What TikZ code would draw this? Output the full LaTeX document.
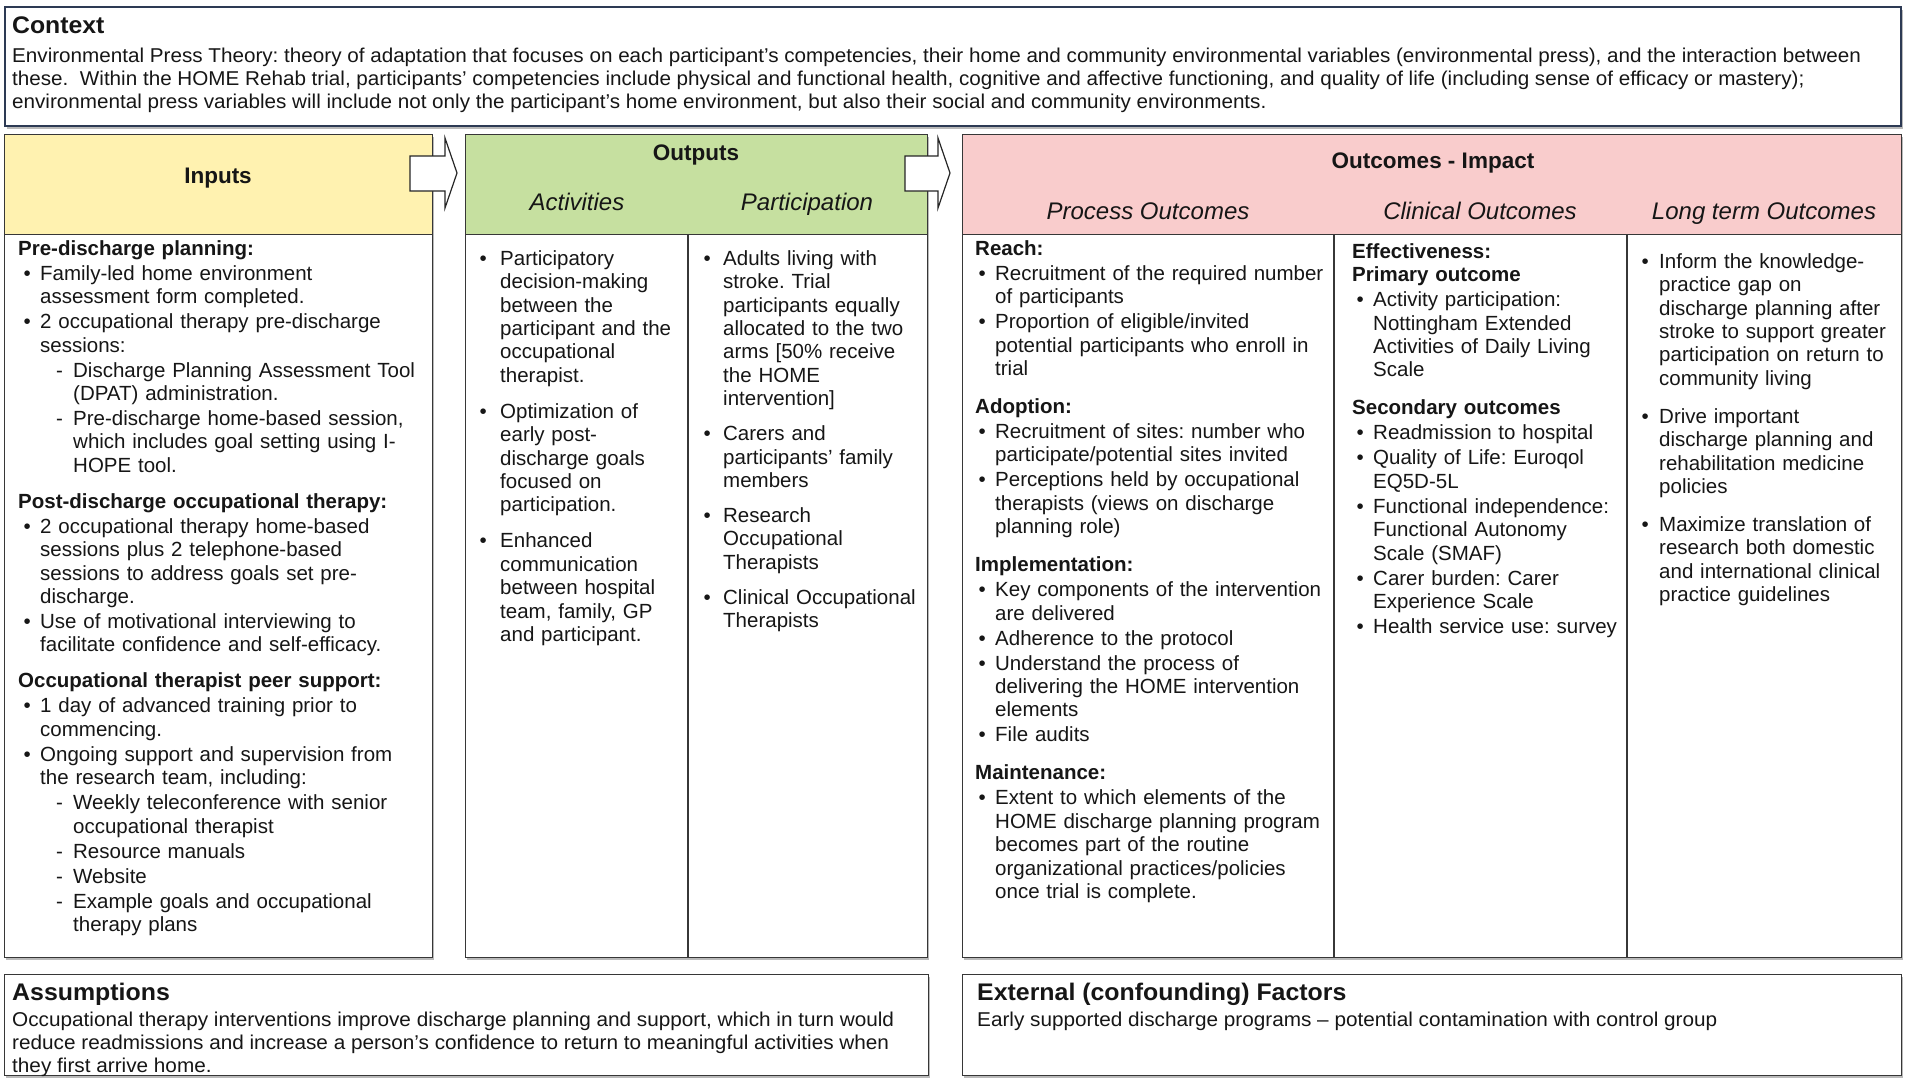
\documentclass[tikz,border=0pt]{standalone}
\usepackage{fontspec}
\setmainfont{Liberation Sans}
\usepackage{graphicx}
\usetikzlibrary{shadows}
\definecolor{hdyellow}{RGB}{255,242,176}
\definecolor{hdgreen}{RGB}{198,224,160}
\definecolor{hdpink}{RGB}{249,204,204}
\definecolor{ctxblue}{RGB}{45,58,84}
\definecolor{txt}{RGB}{22,22,22}
\definecolor{edge}{RGB}{55,55,55}

\newlength\bpos \newlength\tind \newlength\dpos \newlength\dind \newlength\mylen
\newsavebox\measbox
\newcommand\nl{\newline}
\newcommand\bi{\par\hangindent=\tind\hangafter=1\noindent\hbox to\tind{\hskip\bpos\textbullet\hfil}}
\newcommand\di{\par\hangindent=\dind\hangafter=1\noindent\hbox to\dind{\hskip\dpos-\hfil}}
\newcommand\hd[1]{\par\noindent\textbf{#1}}
\newcommand\gap[1]{\par\vspace{#1}}
\newcommand\bodyfont{\fontsize{20.5}{23.4}\selectfont\setlength\parskip{1.6pt}}
\newcommand\ctxfont{\fontsize{20}{23}\selectfont}
\newcommand\ctxhdfont{\fontsize{24}{27}\selectfont\bfseries}
\newcommand\hdfont{\fontsize{22.5}{26}\selectfont}
\newcommand\subfont{\fontsize{24}{27}\selectfont}

\AtBeginDocument{%
\frenchspacing
\sbox\measbox{\ctxfont Environmental Press Theory: theory of adaptation that focuses on each participant’s competencies, their home and community environmental variables (environmental press), and the interaction between}%
\global\mylen=\wd\measbox
\pgfmathsetmacro\ctxr{1849/\mylen}\global\let\ctxr\ctxr
\sbox\measbox{\ctxfont Occupational therapy interventions improve discharge planning and support, which in turn would}%
\global\mylen=\wd\measbox
\pgfmathsetmacro\asr{882/\mylen}\global\let\asr\asr
}

\tikzset{
  box/.style={draw=edge, line width=1.3pt, fill=white, anchor=north west, inner sep=0pt,
    drop shadow={shadow xshift=1.5pt, shadow yshift=-2.5pt, fill=black!45, opacity=0.6}},
  hdr/.style={draw=edge, line width=1.3pt, anchor=north west, inner sep=0pt, minimum height=100pt},
  divider/.style={draw=edge, line width=1.3pt},
  blockarrow/.style={draw=black!85, line width=1.2pt, fill=white, line join=miter},
  hdtitle/.style={anchor=base, inner sep=0pt, font=\hdfont\bfseries, text=txt},
  hdsub/.style={anchor=base, inner sep=0pt, font=\subfont\itshape, text=txt},
  body/.style={anchor=north west, inner sep=0pt, text width=#1, align=left, font=\bodyfont, text=txt},
  narrow/.style={anchor=base west, inner sep=0pt, text=txt}
}

\begin{document}
\begin{tikzpicture}[x=1pt,y=-1pt]
\useasboundingbox (0,0) rectangle (1907,1079);
\fill[white] (0,0) rectangle (1907,1079);

% ---------- Context ----------
\node[box, draw=ctxblue, line width=2.4pt, minimum width=1896pt, minimum height=119pt] (context) at (4,6) {};
\node[narrow] (ctxT) at (12,33) {\scalebox{\ctxr}[1]{\ctxhdfont Context}};
\node[narrow] (ctx1) at (12,62.7) {\scalebox{\ctxr}[1]{\ctxfont Environmental Press Theory: theory of adaptation that focuses on each participant’s competencies, their home and community environmental variables (environmental press), and the interaction between}};
\node[narrow] (ctx2) at (12,85.7) {\scalebox{\ctxr}[1]{\ctxfont these.\ \ Within the HOME Rehab trial, participants’ competencies include physical and functional health, cognitive and affective functioning, and quality of life (including sense of efficacy or mastery);}};
\node[narrow] (ctx3) at (12,108.7) {\scalebox{\ctxr}[1]{\ctxfont environmental press variables will include not only the participant’s home environment, but also their social and community environments.}};

% ---------- Column boxes ----------
\node[box, minimum width=428pt, minimum height=823pt] (inputs) at (4,134) {};
\node[hdr, fill=hdyellow, minimum width=428pt] (inputsH) at (4,134) {};

\node[box, minimum width=462pt, minimum height=823pt] (outputs) at (465,134) {};
\node[hdr, fill=hdgreen, minimum width=462pt] (outputsH) at (465,134) {};
\draw[divider] (688,234) -- (688,957);

\node[box, minimum width=939pt, minimum height=823pt] (outcomes) at (962,134) {};
\node[hdr, fill=hdpink, minimum width=939pt] (outcomesH) at (962,134) {};
\draw[divider] (1334,234) -- (1334,957);
\draw[divider] (1627,234) -- (1627,957);

% ---------- Block arrows ----------
\draw[blockarrow] (410,156) -- (445,156) -- (445,138) -- (457,173) -- (445,208) -- (445,191) -- (410,191) -- cycle;
\draw[blockarrow] (905,156) -- (938,156) -- (938,138) -- (950,173) -- (938,208) -- (938,191) -- (905,191) -- cycle;

% ---------- Header texts ----------
\node[hdtitle] (tInputs) at (218,183) {Inputs};
\node[hdtitle] (tOutputs) at (696,160) {Outputs};
\node[hdsub] (tAct) at (577,210) {Activities};
\node[hdsub] (tPart) at (807,210) {Participation};
\node[hdtitle] (tOutcomes) at (1433,168) {Outcomes - Impact};
\node[hdsub] (tProc) at (1148,219) {Process Outcomes};
\node[hdsub] (tClin) at (1480,219) {Clinical Outcomes};
\node[hdsub] (tLong) at (1764,219) {Long term Outcomes};

% ---------- Inputs body ----------
\node[body=412pt] (inBody) at (18,230) {%
\setlength\bpos{5.4pt}\setlength\tind{22pt}\setlength\dpos{38pt}\setlength\dind{55pt}%
\hd{Pre-discharge planning:}
\bi Family-led home environment\nl assessment form completed.
\bi 2 occupational therapy pre-discharge\nl sessions:
\di Discharge Planning Assessment Tool\nl (DPAT) administration.
\di Pre-discharge home-based session,\nl which includes goal setting using I-\nl HOPE tool.
\gap{11pt}
\hd{Post-discharge occupational therapy:}
\bi 2 occupational therapy home-based\nl sessions plus 2 telephone-based\nl sessions to address goals set pre-\nl discharge.
\bi Use of motivational interviewing to\nl facilitate confidence and self-efficacy.
\gap{11pt}
\hd{Occupational therapist peer support:}
\bi 1 day of advanced training prior to\nl commencing.
\bi Ongoing support and supervision from\nl the research team, including:
\di Weekly teleconference with senior\nl occupational therapist
\di Resource manuals
\di Website
\di Example goals and occupational\nl therapy plans\par};

% ---------- Outputs body ----------
\node[body=206pt] (actBody) at (479,240) {%
\setlength\bpos{0.4pt}\setlength\tind{21pt}%
\bi Participatory\nl decision-making\nl between the\nl participant and the\nl occupational\nl therapist.
\gap{11pt}
\bi Optimization of\nl early post-\nl discharge goals\nl focused on\nl participation.
\gap{11pt}
\bi Enhanced\nl communication\nl between hospital\nl team, family, GP\nl and participant.\par};

\node[body=218pt] (partBody) at (703,240) {%
\setlength\bpos{0.4pt}\setlength\tind{20pt}%
\bi Adults living with\nl stroke. Trial\nl participants equally\nl allocated to the two\nl arms [50\% receive\nl the HOME\nl intervention]
\gap{10pt}
\bi Carers and\nl participants’ family\nl members
\gap{10pt}
\bi Research\nl Occupational\nl Therapists
\gap{10pt}
\bi Clinical Occupational\nl Therapists\par};

% ---------- Outcomes body ----------
\node[body=355pt] (procBody) at (975,230) {%
\setlength\bpos{3.4pt}\setlength\tind{20pt}%
\hd{Reach:}
\bi Recruitment of the required number\nl of participants
\bi Proportion of eligible/invited\nl potential participants who enroll in\nl trial
\gap{13pt}
\hd{Adoption:}
\bi Recruitment of sites: number who\nl participate/potential sites invited
\bi Perceptions held by occupational\nl therapists (views on discharge\nl planning role)
\gap{13pt}
\hd{Implementation:}
\bi Key components of the intervention\nl are delivered
\bi Adherence to the protocol
\bi Understand the process of\nl delivering the HOME intervention\nl elements
\bi File audits
\gap{13pt}
\hd{Maintenance:}
\bi Extent to which elements of the\nl HOME discharge planning program\nl becomes part of the routine\nl organizational practices/policies\nl once trial is complete.\par};

\node[body=270pt] (clinBody) at (1352,233) {%
\setlength\bpos{4.4pt}\setlength\tind{21pt}%
\hd{Effectiveness:\nl Primary outcome}
\bi Activity participation:\nl Nottingham Extended\nl Activities of Daily Living\nl Scale
\gap{13pt}
\hd{Secondary outcomes}
\bi Readmission to hospital
\bi Quality of Life: Euroqol\nl EQ5D-5L
\bi Functional independence:\nl Functional Autonomy\nl Scale (SMAF)
\bi Carer burden: Carer\nl Experience Scale
\bi Health service use: survey\par};

\node[body=252pt] (longBody) at (1641,243) {%
\setlength\bpos{0.4pt}\setlength\tind{18pt}%
\bi Inform the knowledge-\nl practice gap on\nl discharge planning after\nl stroke to support greater\nl participation on return to\nl community living
\gap{13pt}
\bi Drive important\nl discharge planning and\nl rehabilitation medicine\nl policies
\gap{13pt}
\bi Maximize translation of\nl research both domestic\nl and international clinical\nl practice guidelines\par};

% ---------- Assumptions / External ----------
\node[box, minimum width=924pt, minimum height=101pt] (assump) at (4,974) {};
\node[narrow] (asT) at (12,1000.6) {\scalebox{\asr}[1]{\ctxhdfont Assumptions}};
\node[narrow] (as1) at (12,1026.2) {\scalebox{\asr}[1]{\ctxfont Occupational therapy interventions improve discharge planning and support, which in turn would}};
\node[narrow] (as2) at (12,1049.2) {\scalebox{\asr}[1]{\ctxfont reduce readmissions and increase a person’s confidence to return to meaningful activities when}};
\node[narrow] (as3) at (12,1072.2) {\scalebox{\asr}[1]{\ctxfont they first arrive home.}};

\node[box, minimum width=939pt, minimum height=101pt] (extern) at (962,974) {};
\node[narrow] (exT) at (977,1000.6) {\scalebox{\asr}[1]{\ctxhdfont External (confounding) Factors}};
\node[narrow] (ex1) at (977,1026.2) {\scalebox{\asr}[1]{\ctxfont Early supported discharge programs – potential contamination with control group}};
\end{tikzpicture}
\end{document}
